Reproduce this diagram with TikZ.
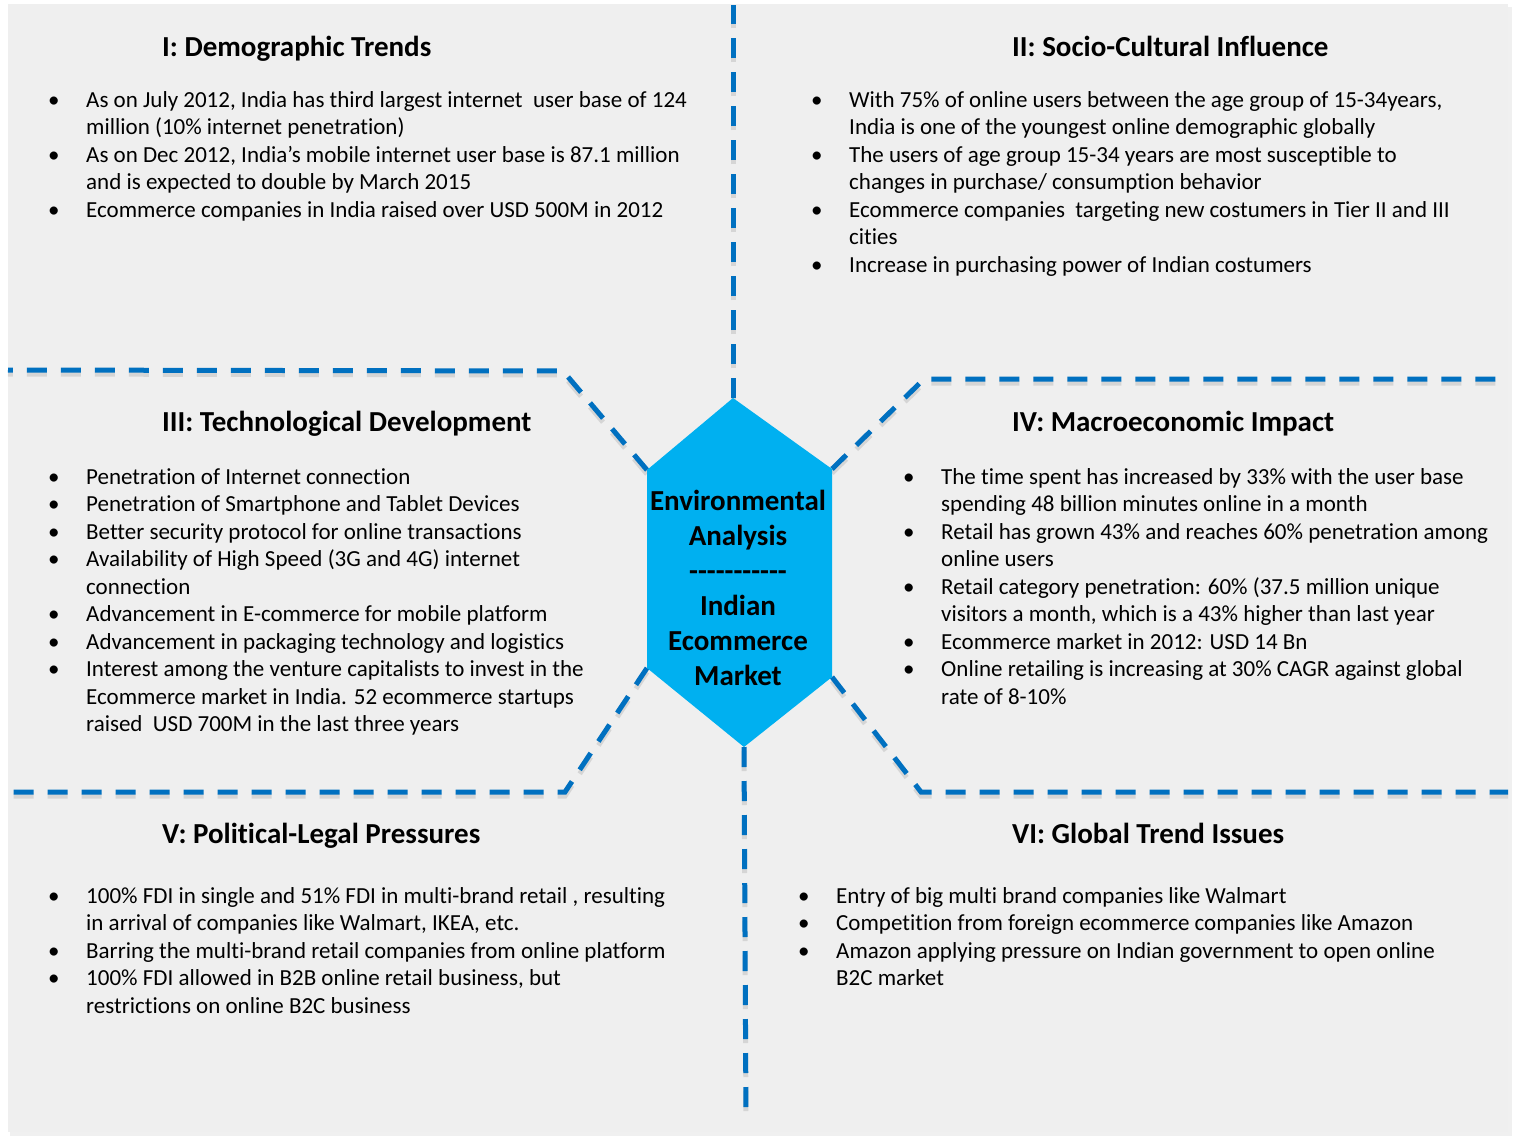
\documentclass[tikz,border=0pt]{standalone}
\usepackage{fontspec}
\setmainfont[Ligatures=NoCommon]{Carlito}
\usepackage{xcolor}
\usepackage{tikz}
\usetikzlibrary{calc}
\definecolor{AzulLinea}{RGB}{0,112,192}
\definecolor{AzulHex}{RGB}{0,176,240}
\definecolor{GrisFondo}{RGB}{239,239,239}
\newcommand{\cuerpo}{\fontsize{23}{27.5}\selectfont}
\newcommand{\titulo}{\fontsize{29}{32}\selectfont\bfseries}
\newcommand{\lista}[1]{\begin{tabular}[t]{@{}p{38pt}@{}l@{}}#1\end{tabular}}
\newcommand{\bu}{\textbullet}
\tikzset{
  corte/.style={AzulLinea,line width=5pt,dash pattern=on 20pt off 14pt,
    preaction={draw=black!40,opacity=0.3,line width=5pt,dash pattern=on 20pt off 14pt,transform canvas={yshift=-4pt}}},
  cabeza/.style={anchor=base west,inner sep=0pt,font=\titulo},
  texto/.style={anchor=base west,inner sep=0pt,font=\cuerpo}
}
\begin{document}
\begin{tikzpicture}[x=1pt,y=-1pt]
  \useasboundingbox (0,0) rectangle (1517,1143);
  \fill[black!6] (10,7) rectangle (1512,1136);
  \fill[GrisFondo] (8,4) rectangle (1508,1132);
  \coordinate (T) at (733,398);
  \coordinate (UL) at (647,470);
  \coordinate (UR) at (832,469);
  \coordinate (LL) at (647,668);
  \coordinate (LR) at (832,677);
  \coordinate (B) at (744,747);
  \draw[corte] (T)--(733,5);
  \draw[corte] (B)--(746,1120);
  \draw[corte] (UL)--(563,371)--(8,370);
  \draw[corte] (UR)--(924,379)--(1508,379);
  \draw[corte] (LL)--(565,792)--(8,792);
  \draw[corte] (LR)--(921,792)--(1508,792);
  \fill[AzulHex] (T)--(UR)--(LR)--(B)--(LL)--(UL)--cycle;
  \node[align=center,font=\fontsize{29}{35}\selectfont\bfseries] (centro) at (738,588)
    {Environmental\\Analysis\\-{}-{}-{}-{}-{}-{}-{}-{}-{}-{}-\\Indian\\Ecommerce\\Market};
  \node[cabeza] (t1) at (162,56) {I: Demographic Trends};
  \node[cabeza] (t2) at (1012,56) {II: Socio-Cultural Influence};
  \node[cabeza] (t3) at (162,431) {III: Technological Development};
  \node[cabeza] (t4) at (1012,431) {IV: Macroeconomic Impact};
  \node[cabeza] (t5) at (162,843) {V: Political-Legal Pressures};
  \node[cabeza] (t6) at (1012,843) {VI: Global Trend Issues};
  \node[texto] (l1) at (48,107) {\lista{
    \bu & As on July 2012, India has third largest internet\ \ user base of 124\\
        & million (10\% internet penetration)\\
    \bu & As on Dec 2012, India’s mobile internet user base is 87.1 million\\
        & and is expected to double by March 2015\\
    \bu & Ecommerce companies in India raised over USD 500M in 2012}};
  \node[texto] (l2) at (811,107) {\lista{
    \bu & With 75\% of online users between the age group of 15-34years,\\
        & India is one of the youngest online demographic globally\\
    \bu & The users of age group 15-34 years are most susceptible to\\
        & changes in purchase/ consumption behavior\\
    \bu & Ecommerce companies\ \ targeting new costumers in Tier II and III\\
        & cities\\
    \bu & Increase in purchasing power of Indian costumers}};
  \node[texto] (l3) at (48,484) {\lista{
    \bu & Penetration of Internet connection\\
    \bu & Penetration of Smartphone and Tablet Devices\\
    \bu & Better security protocol for online transactions\\
    \bu & Availability of High Speed (3G and 4G) internet\\
        & connection\\
    \bu & Advancement in E-commerce for mobile platform\\
    \bu & Advancement in packaging technology and logistics\\
    \bu & Interest among the venture capitalists to invest in the\\
        & Ecommerce market in India. 52 ecommerce startups\\
        & raised\ \ USD 700M in the last three years}};
  \node[texto] (l4) at (903,484) {\lista{
    \bu & The time spent has increased by 33\% with the user base\\
        & spending 48 billion minutes online in a month\\
    \bu & Retail has grown 43\% and reaches 60\% penetration among\\
        & online users\\
    \bu & Retail category penetration: 60\% (37.5 million unique\\
        & visitors a month, which is a 43\% higher than last year\\
    \bu & Ecommerce market in 2012: USD 14 Bn\\
    \bu & Online retailing is increasing at 30\% CAGR against global\\
        & rate of 8-10\%}};
  \node[texto] (l5) at (48,903) {\lista{
    \bu & 100\% FDI in single and 51\% FDI in multi-brand retail , resulting\\
        & in arrival of companies like Walmart, IKEA, etc.\\
    \bu & Barring the multi-brand retail companies from online platform\\
    \bu & 100\% FDI allowed in B2B online retail business, but\\
        & restrictions on online B2C business}};
  \node[texto] (l6) at (798,903) {\lista{
    \bu & Entry of big multi brand companies like Walmart\\
    \bu & Competition from foreign ecommerce companies like Amazon\\
    \bu & Amazon applying pressure on Indian government to open online\\
        & B2C market}};
\end{tikzpicture}
\end{document}
